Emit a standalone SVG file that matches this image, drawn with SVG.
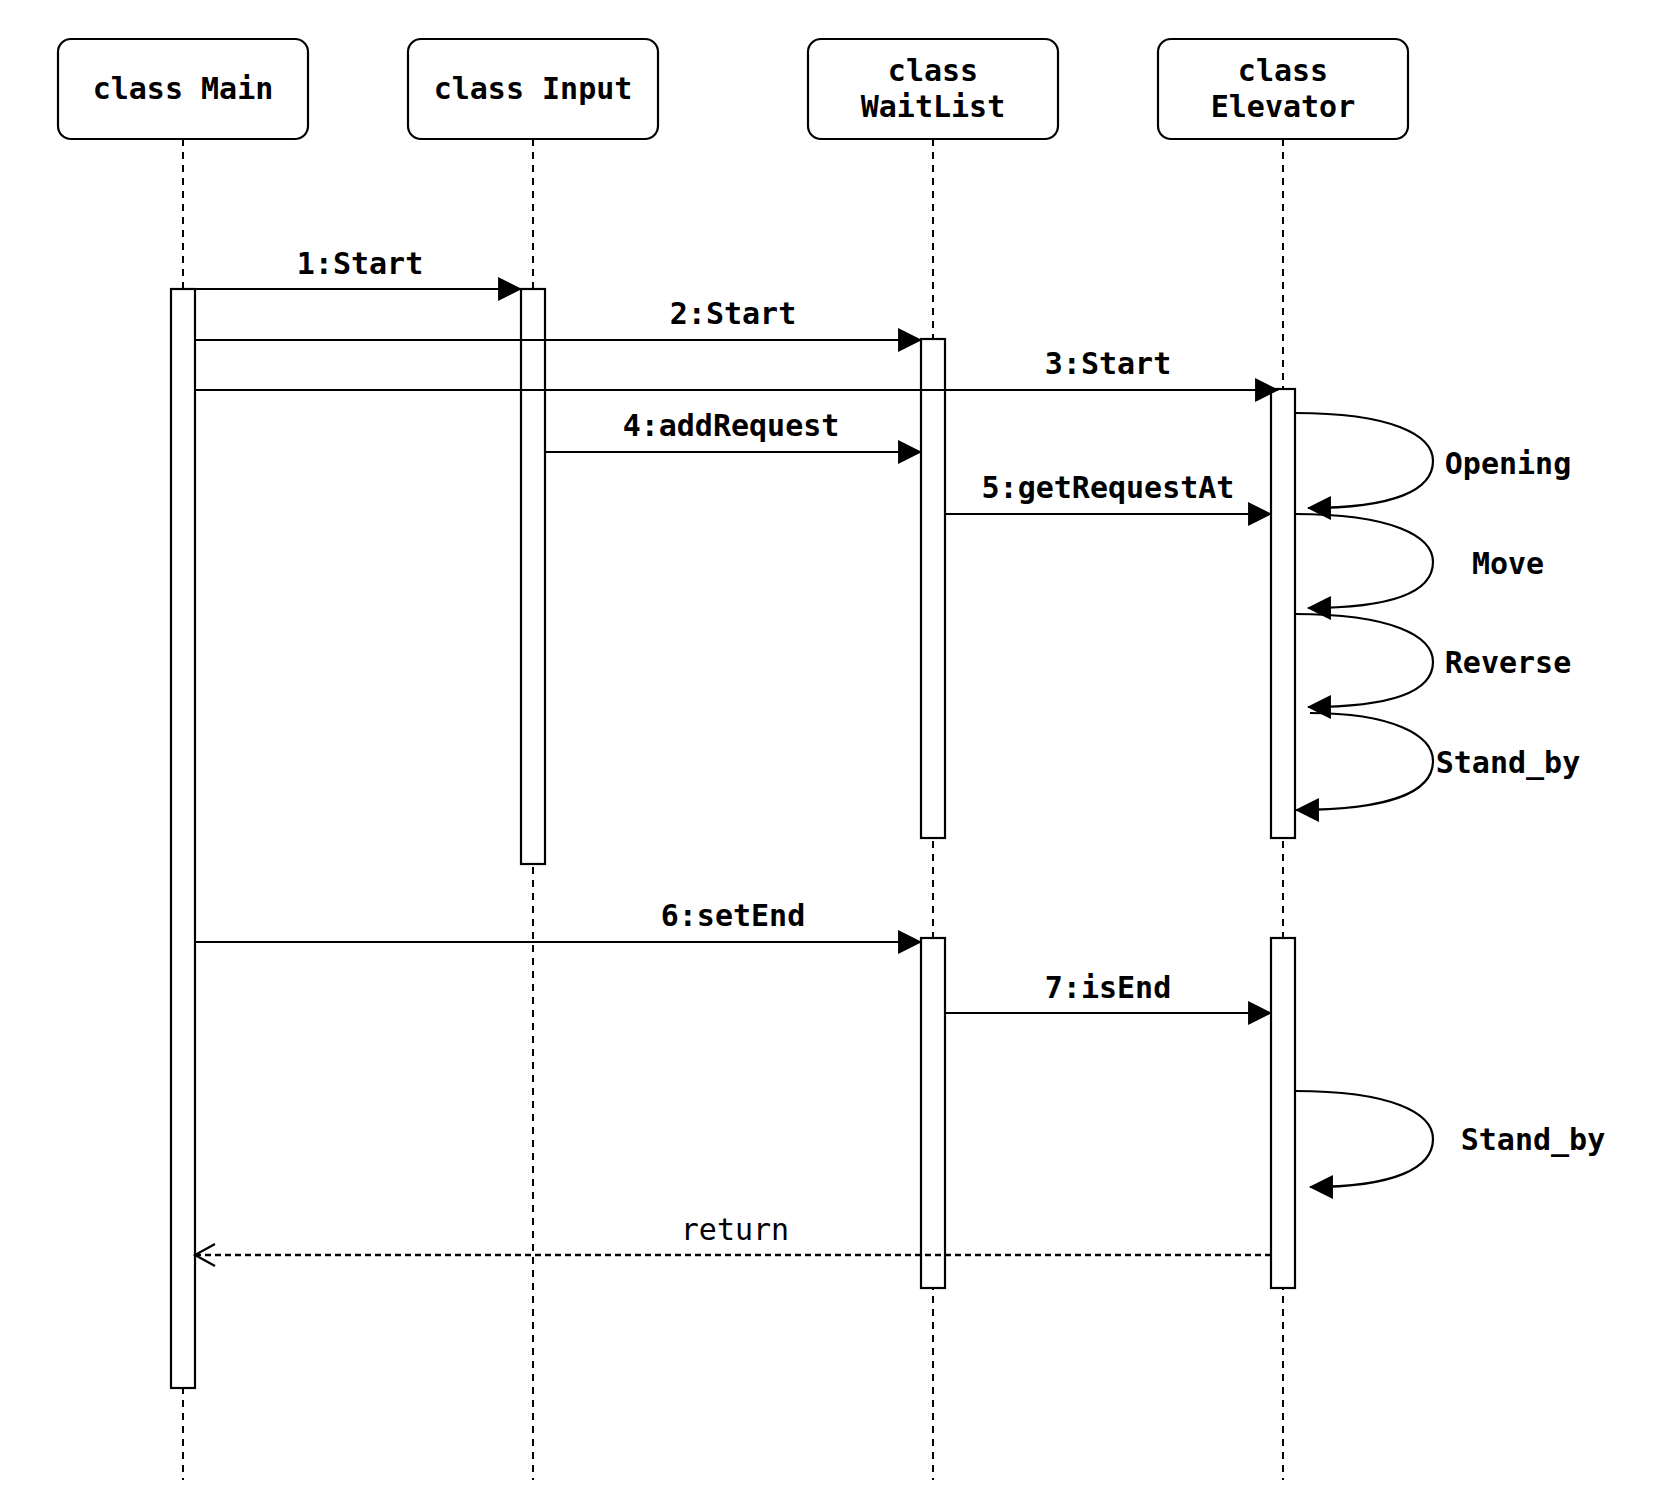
<svg xmlns="http://www.w3.org/2000/svg" width="1654" height="1510" viewBox="0 0 1654 1510">
<style>
.box{fill:#fff;stroke:#000;stroke-width:2.2}
.life{stroke:#000;stroke-width:2;stroke-dasharray:7 6;fill:none}
.bar{fill:#fff;stroke:#000;stroke-width:2.2}
.t{font-family:"DejaVu Sans Mono","Liberation Mono",monospace;font-weight:bold;font-size:30px;fill:#000;text-anchor:middle}
.r{font-family:"DejaVu Sans Mono","Liberation Mono",monospace;font-size:30px;fill:#000;text-anchor:middle}
.msg{stroke:#000;stroke-width:2.2;fill:none;marker-end:url(#filled)}
.ret{stroke:#000;stroke-width:2.4;fill:none;stroke-dasharray:6 4;marker-end:url(#open)}
</style>
<defs>
<marker id="filled" markerUnits="userSpaceOnUse" markerWidth="24" markerHeight="24" viewBox="0 0 22 22" refX="21" refY="11" orient="auto">
<path d="M0,0 L22,11 L0,22 Z" fill="#000"/>
</marker>
<marker id="open" markerUnits="userSpaceOnUse" markerWidth="26" markerHeight="30" viewBox="0 0 26 30" refX="22" refY="15" orient="auto">
<path d="M2,4 L22,15 L2,26" fill="none" stroke="#000" stroke-width="2.2"/>
</marker>
</defs>
<rect width="1654" height="1510" fill="#fff"/>

<g id="main">
<line class="life" x1="183" y1="139" x2="183" y2="1480"/>
<rect class="box" x="58" y="39" width="250" height="100" rx="13"/>
<text class="t" x="183" y="99">class Main</text>
<rect class="bar" x="171" y="289" width="24" height="1099"/>
</g>

<g id="input">
<line class="life" x1="533" y1="139" x2="533" y2="1480"/>
<rect class="box" x="408" y="39" width="250" height="100" rx="13"/>
<text class="t" x="533" y="99">class Input</text>
<rect class="bar" x="521" y="289" width="24" height="575"/>
</g>

<g id="waitlist">
<line class="life" x1="933" y1="139" x2="933" y2="1480"/>
<rect class="box" x="808" y="39" width="250" height="100" rx="13"/>
<text class="t" x="933" y="81">class</text>
<text class="t" x="933" y="117">WaitList</text>
<rect class="bar" x="921" y="339" width="24" height="499"/>
<rect class="bar" x="921" y="938" width="24" height="350"/>
</g>

<g id="elevator">
<line class="life" x1="1283" y1="139" x2="1283" y2="1480"/>
<rect class="box" x="1158" y="39" width="250" height="100" rx="13"/>
<text class="t" x="1283" y="81">class</text>
<text class="t" x="1283" y="117">Elevator</text>
<rect class="bar" x="1271" y="389" width="24" height="449"/>
<rect class="bar" x="1271" y="938" width="24" height="350"/>
</g>

<g id="connectors">
<line class="msg" x1="195" y1="289" x2="521" y2="289"/>
<text class="t" x="360" y="274">1:Start</text>
<line class="msg" x1="195" y1="340" x2="921" y2="340"/>
<text class="t" x="733" y="324">2:Start</text>
<line class="msg" x1="195" y1="390" x2="1278" y2="390"/>
<text class="t" x="1108" y="374">3:Start</text>
<line class="msg" x1="544" y1="452" x2="921" y2="452"/>
<text class="t" x="731" y="436">4:addRequest</text>
<line class="msg" x1="945" y1="514" x2="1271" y2="514"/>
<text class="t" x="1108" y="498">5:getRequestAt</text>
<line class="msg" x1="195" y1="942" x2="921" y2="942"/>
<text class="t" x="733" y="926">6:setEnd</text>
<line class="msg" x1="945" y1="1013" x2="1271" y2="1013"/>
<text class="t" x="1108" y="998">7:isEnd</text>
<line class="ret" x1="1271" y1="1255" x2="195" y2="1255"/>
<text class="r" x="735" y="1240">return</text>

<path class="msg" d="M1295,413 C1392,413 1433,435 1433,461 C1433,490 1395,508 1308,508"/>
<text class="t" x="1508" y="474">Opening</text>
<path class="msg" d="M1295,514 C1392,514 1433,536 1433,562 C1433,591 1395,608 1308,608"/>
<text class="t" x="1508" y="574">Move</text>
<path class="msg" d="M1295,614 C1392,614 1433,636 1433,662 C1433,691 1395,707 1308,707"/>
<text class="t" x="1508" y="673">Reverse</text>
<path class="msg" d="M1310,713 C1392,713 1433,735 1433,761 C1433,790 1395,810 1296,810"/>
<text class="t" x="1508" y="773">Stand_by</text>
<path class="msg" d="M1295,1091 C1392,1091 1433,1113 1433,1139 C1433,1168 1395,1187 1310,1187"/>
<text class="t" x="1533" y="1150">Stand_by</text>
</g>
</svg>
